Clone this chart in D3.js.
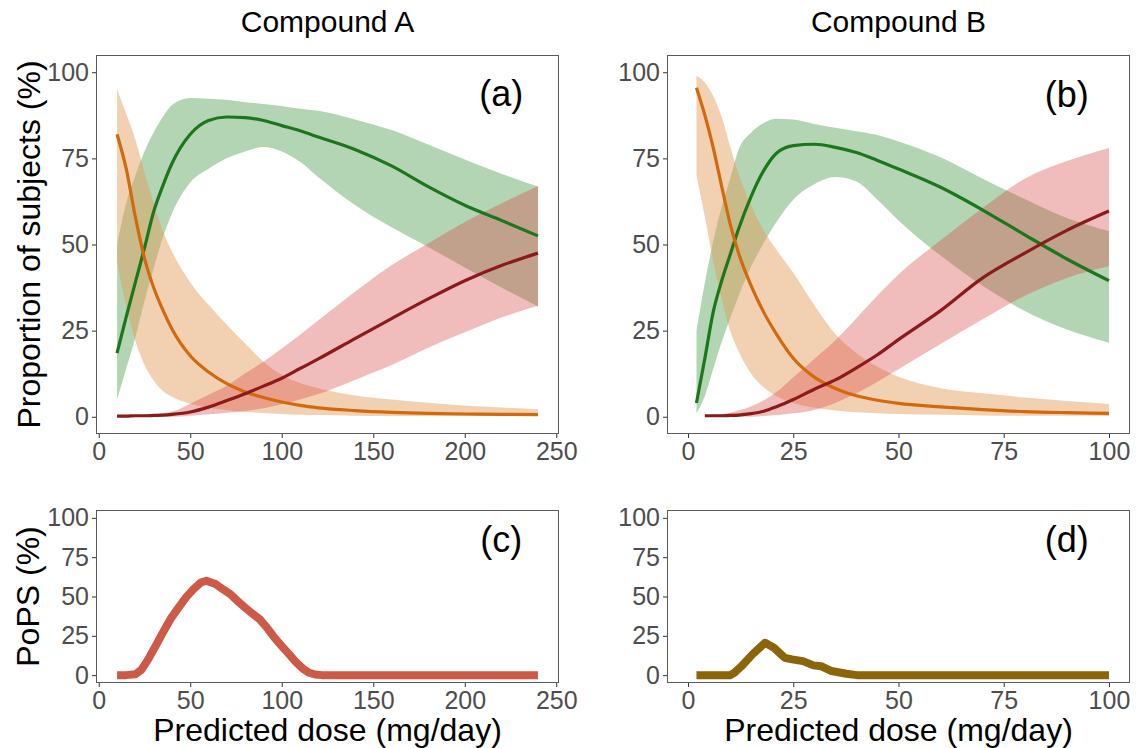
<!DOCTYPE html>
<html>
<head>
<meta charset="utf-8">
<script src="https://cdn.jsdelivr.net/npm/d3@7"></script>
<style>
  html, body { margin: 0; padding: 0; background: #ffffff; }
  svg { display: block; }
  text { font-family: "Liberation Sans", Arial, Helvetica, sans-serif; }
</style>
</head>
<body>
<svg id="chart" width="1142" height="748"></svg>
<script>
// ---------------- data ----------------
// Compound A: predicted dose grid (mg/day) and proportions of subjects (%)
const doseA = [10, 15, 20, 25, 30, 35, 40, 50, 60, 70, 80, 90, 100, 110, 120, 140, 160, 180, 200, 220, 240];

const withinMidA = [18.5, 29, 39, 49, 59.5, 67, 73.5, 82, 86, 87, 86.8, 86, 84.5, 83, 81.2, 77.6, 72.8, 66.8, 61.4, 57, 52.5];
const withinHiA  = [50, 62, 70, 77, 82.5, 87, 90.5, 92.5, 92.3, 92, 91.3, 90.8, 90.2, 89.4, 88.8, 86.3, 83.2, 79, 74.7, 70.5, 66.8];
const withinLoA  = [5, 14, 23, 33.5, 43, 52, 59, 68, 72, 75, 77, 78.3, 77, 74, 69.5, 61.5, 55, 49.3, 43.3, 37.5, 32];

const belowMidA  = [82, 72, 58, 46, 37.5, 31, 25.5, 17.7, 13, 9.6, 7.2, 5.6, 4.3, 3.3, 2.6, 1.8, 1.3, 1.0, 0.8, 0.7, 0.6];
const belowHiA   = [95, 88, 80.5, 71, 62, 54, 48, 39, 32.5, 26.7, 21.3, 16, 12.2, 9.8, 8.3, 6.2, 5, 4.1, 3.3, 2.7, 2.2];
const belowLoA   = [45, 32, 22, 15, 10.5, 7.5, 5.8, 3.8, 2.6, 1.9, 1.4, 1.1, 0.8, 0.6, 0.5, 0.3, 0.2, 0.2, 0.2, 0.2, 0.2];

const aboveMidA  = [0.2, 0.2, 0.3, 0.3, 0.4, 0.5, 0.7, 1.4, 2.8, 4.7, 6.7, 8.9, 11.2, 14, 16.8, 22.7, 28.5, 34.2, 39.5, 43.9, 47.5];
const aboveHiA   = [0.3, 0.3, 0.4, 0.5, 0.7, 1.0, 1.5, 3.8, 6.4, 9.0, 12.6, 16, 19.8, 23.8, 28, 36.3, 44, 50.3, 56.5, 61.9, 67];
const aboveLoA   = [0, 0, 0, 0, 0, 0, 0, 0.3, 0.7, 1.2, 1.7, 2.5, 3.6, 5, 6.6, 10.7, 15, 20, 24.5, 28.8, 32.2];

// Compound B: predicted dose grid (mg/day) and proportions of subjects (%)
const doseB = [2, 4, 6, 8, 10, 12, 15, 18, 21, 25, 30, 35, 40, 45, 50, 60, 70, 80, 90, 100];

const withinMidB = [4, 17, 30.5, 39.5, 47, 54.5, 64, 71.5, 76.5, 78.7, 79.1, 78.2, 76.7, 74.4, 71.9, 66.6, 60, 52.8, 45.8, 39.5];
const withinHiB  = [25, 39, 51, 61, 69, 77.5, 82.5, 85.3, 86.5, 86.3, 85, 83.9, 82.9, 81.8, 79.9, 75.3, 69.1, 63.2, 57.7, 53.9];
const withinLoB  = [1, 6, 14, 21.7, 28.5, 35, 43.6, 50.5, 56.5, 63, 67.5, 69.6, 68.3, 63, 57, 46.8, 38, 30.7, 25.3, 21.5];

const belowMidB  = [95.5, 87.5, 78, 66.8, 56, 47.5, 38, 30.3, 24, 17, 11.5, 8.2, 6.1, 4.8, 3.9, 2.9, 2.1, 1.5, 1.2, 1.0];
const belowHiB   = [99, 97, 93, 87, 78.5, 70.5, 61.3, 54, 48.5, 41.8, 32.4, 24, 18.5, 14.5, 11.6, 8.3, 6.8, 5.6, 4.6, 3.7];
const belowLoB   = [70, 58, 45, 34, 25, 19, 12.5, 8.5, 6, 4, 2.6, 1.8, 1.3, 1.0, 0.8, 0.6, 0.4, 0.3, 0.3, 0.2];

// the above-target series starts at the second dose level
const aboveMidB  = [null, 0.3, 0.3, 0.3, 0.4, 0.5, 0.9, 1.6, 2.9, 5.0, 8.0, 10.7, 14.2, 18.0, 22.4, 30.8, 40.3, 47.5, 54.1, 59.7];
const aboveHiB   = [null, 0.5, 0.6, 0.8, 1.2, 1.8, 3.0, 4.8, 7.2, 11.5, 16.8, 22.2, 28.6, 35.2, 41.3, 51.2, 60.6, 69.1, 74.2, 78];
const aboveLoB   = [null, 0, 0, 0, 0, 0, 0, 0.2, 0.5, 1.0, 2.0, 4.0, 6.8, 10.2, 13.8, 21.1, 28.3, 35.1, 40.3, 43.7];

// Probability of pharmacological success (PoPS, %)
const popsDoseA = [10, 15, 20, 23.5, 27, 31.6, 35, 39.7, 43, 47.7, 52, 55.8, 58.8, 63.8, 68, 71.9, 76, 79.9, 84, 88, 92, 96, 100, 104.1, 108, 112.1, 115, 118.2, 122, 130, 150, 200, 240];
const popsA     = [0, 0, 0.5, 3.6, 10, 19.6, 27, 36.6, 42, 49.4, 55, 58.9, 60, 57.9, 54.5, 51.5, 47, 43, 39, 35.5, 30, 23.8, 18.5, 13.2, 8, 3.6, 1.5, 0.4, 0, 0, 0, 0, 0];

const popsDoseB = [2, 6, 10, 11, 12.7, 15.3, 18.3, 20.4, 23, 24.7, 27.3, 29.8, 31.6, 34.1, 37.6, 40.1, 50, 75, 100];
const popsB     = [0, 0, 0, 1.5, 5.7, 13.2, 20.6, 17.4, 11, 10, 8.9, 6.2, 5.7, 2.6, 0.9, 0, 0, 0, 0];

// Axis ticks and labels
const yTicks = [0, 25, 50, 75, 100];
const xTicksA = [0, 50, 100, 150, 200, 250];
const xTicksB = [0, 25, 50, 75, 100];
const compoundTitles = ["Compound A", "Compound B"];
const panelTags = ["(a)", "(b)", "(c)", "(d)"];
const yTitleTop = "Proportion of subjects (%)";
const yTitleBottom = "PoPS (%)";
const xTitle = "Predicted dose (mg/day)";

// ---------------- styles ----------------
const groupStyle = {
  within: { line: "#1c771c", fill: "#2e8b2e", fillOpacity: 0.36 },
  below:  { line: "#d2690c", fill: "#e39a55", fillOpacity: 0.45 },
  above:  { line: "#8b1a1a", fill: "#d94848", fillOpacity: 0.37 }
};

function series(dose, mid, lo, hi) {
  return dose.map((d, i) => ({ x: d, mid: mid[i], lo: lo[i], hi: hi[i] }));
}

const groupsA = [
  { key: "within", rows: series(doseA, withinMidA, withinLoA, withinHiA) },
  { key: "below",  rows: series(doseA, belowMidA, belowLoA, belowHiA) },
  { key: "above",  rows: series(doseA, aboveMidA, aboveLoA, aboveHiA) }
];
const groupsB = [
  { key: "within", rows: series(doseB, withinMidB, withinLoB, withinHiB) },
  { key: "below",  rows: series(doseB, belowMidB, belowLoB, belowHiB) },
  { key: "above",  rows: series(doseB, aboveMidB, aboveLoB, aboveHiB) }
];

// ---------------- layout ----------------
const svg = d3.select("#chart");
const FONT_TICK = 25, FONT_TITLE = 32, FONT_TAG = 36;

const colLeft = [96, 667];
const panelW = 463;
const rowTop = [55, 510];
const rowH = [379, 173];
const xDomains = [[-1.5, 251.5], [-5, 105]];
const xTickSets = [xTicksA, xTicksB];

function makePanel(col, row) {
  const left = colLeft[col], top = rowTop[row], h = rowH[row];
  const x = d3.scaleLinear().domain(xDomains[col]).range([left, left + panelW]);
  const y = d3.scaleLinear().domain([-5, 105]).range([top + h, top]);
  const g = svg.append("g");

  // y axis
  const ya = g.append("g")
    .attr("transform", `translate(${left},0)`)
    .call(d3.axisLeft(y).tickValues(yTicks).tickSize(4).tickPadding(3));
  // x axis
  const xa = g.append("g")
    .attr("transform", `translate(0,${top + h})`)
    .call(d3.axisBottom(x).tickValues(xTickSets[col]).tickSize(4).tickPadding(4));
  [ya, xa].forEach(a => {
    a.select(".domain").remove();
    a.selectAll(".tick line").attr("stroke", "#333333").attr("stroke-width", 1);
    a.selectAll(".tick text")
      .attr("fill", "#4d4d4d")
      .style("font-size", FONT_TICK + "px");
  });

  return { g, x, y, left, top, h };
}

function drawFrame(p) {
  p.g.append("rect")
    .attr("x", p.left + 0.5).attr("y", p.top + 0.5)
    .attr("width", panelW - 1).attr("height", p.h - 1)
    .attr("fill", "none").attr("stroke", "#5a5a5a").attr("stroke-width", 1);
}

function drawTag(p, text, xv, yv) {
  p.g.append("text")
    .attr("x", p.x(xv)).attr("y", p.y(yv))
    .attr("dy", "0.26em")
    .attr("text-anchor", "middle")
    .attr("fill", "#000000")
    .style("font-size", FONT_TAG + "px")
    .text(text);
}

function drawBands(p, groups) {
  const area = d3.area()
    .defined(d => d.lo != null && d.hi != null)
    .curve(d3.curveMonotoneX)
    .x(d => p.x(d.x)).y0(d => p.y(d.lo)).y1(d => p.y(d.hi));
  const line = d3.line()
    .defined(d => d.mid != null)
    .curve(d3.curveMonotoneX)
    .x(d => p.x(d.x)).y(d => p.y(d.mid));

  groups.forEach(gr => {
    const s = groupStyle[gr.key];
    p.g.append("path").datum(gr.rows)
      .attr("d", area)
      .attr("fill", s.fill).attr("fill-opacity", s.fillOpacity)
      .attr("stroke", "none");
  });
  groups.forEach(gr => {
    const s = groupStyle[gr.key];
    p.g.append("path").datum(gr.rows)
      .attr("d", line)
      .attr("fill", "none").attr("stroke", s.line)
      .attr("stroke-width", 3.2).attr("stroke-linejoin", "round");
  });
}

function drawPops(p, dose, vals, color) {
  const rows = dose.map((d, i) => ({ x: d, v: vals[i] }));
  const line = d3.line().x(d => p.x(d.x)).y(d => p.y(d.v));
  p.g.append("path").datum(rows)
    .attr("d", line)
    .attr("fill", "none").attr("stroke", color)
    .attr("stroke-width", 8).attr("stroke-linejoin", "round")
    .attr("stroke-linecap", "butt");
}

// top row: proportions of subjects
const pa = makePanel(0, 0);
drawBands(pa, groupsA);
drawFrame(pa);
drawTag(pa, panelTags[0], 220, 93);

const pb = makePanel(1, 0);
drawBands(pb, groupsB);
drawFrame(pb);
drawTag(pb, panelTags[1], 90, 92.5);

// bottom row: PoPS
const pc = makePanel(0, 1);
drawPops(pc, popsDoseA, popsA, "#cd5a46");
drawFrame(pc);
drawTag(pc, panelTags[2], 220, 84);

const pd = makePanel(1, 1);
drawPops(pd, popsDoseB, popsB, "#8b6508");
drawFrame(pd);
drawTag(pd, panelTags[3], 90, 84);

// column titles
[pa, pb].forEach((p, i) => {
  svg.append("text")
    .attr("x", p.left + panelW / 2).attr("y", 32)
    .attr("text-anchor", "middle")
    .attr("fill", "#000000")
    .style("font-size", "30px")
    .text(compoundTitles[i]);
});

// y axis titles
svg.append("text")
  .attr("transform", `translate(40,${pa.top + pa.h / 2}) rotate(-90)`)
  .attr("text-anchor", "middle").attr("fill", "#000000")
  .style("font-size", FONT_TITLE + "px")
  .text(yTitleTop);
svg.append("text")
  .attr("transform", `translate(39,${pc.top + pc.h / 2}) rotate(-90)`)
  .attr("text-anchor", "middle").attr("fill", "#000000")
  .style("font-size", FONT_TITLE + "px")
  .text(yTitleBottom);

// x axis titles
[pc, pd].forEach(p => {
  svg.append("text")
    .attr("x", p.left + panelW / 2).attr("y", 741)
    .attr("text-anchor", "middle").attr("fill", "#000000")
    .style("font-size", FONT_TITLE + "px")
    .text(xTitle);
});
</script>
</body>
</html>
